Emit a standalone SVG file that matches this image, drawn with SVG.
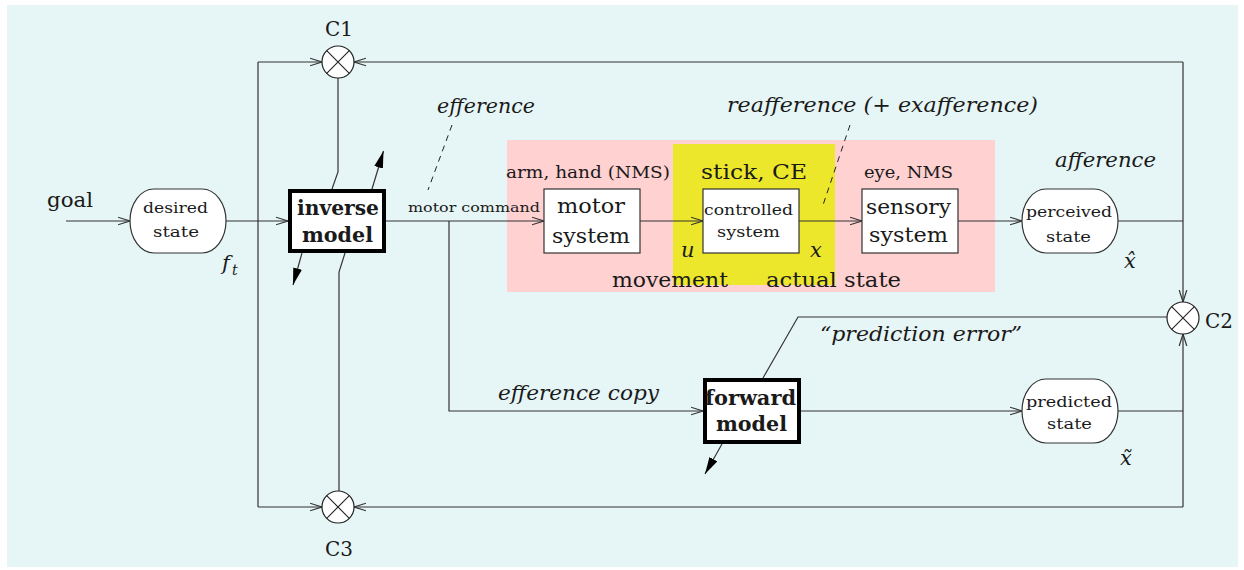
<svg xmlns="http://www.w3.org/2000/svg" width="1244" height="570" viewBox="0 0 1244 570">
<style>
text{font-family:"DejaVu Serif","Liberation Serif",serif;fill:#1a1a1a}
.big{font-size:21px}
.med{font-size:16.5px}
.sm{font-size:15px}
.tiny{font-size:12.5px}
.bold{font-size:20px;font-weight:bold}
.it{font-style:italic;font-size:21px}
.ln{fill:none;stroke:#333;stroke-width:1.2}
.box{fill:#fff;stroke:#333;stroke-width:1.2}
.thick{fill:#fff;stroke:#000;stroke-width:4}
.dash{fill:none;stroke:#222;stroke-width:1;stroke-dasharray:6 5}
.sum circle{fill:#fff;stroke:#222;stroke-width:1.2}
.sum path{stroke:#222;stroke-width:1.1;fill:none}
</style>
<defs>
<marker id="oa" markerUnits="userSpaceOnUse" markerWidth="14" markerHeight="10" viewBox="0 0 14 10" refX="12" refY="5" orient="auto">
<path d="M0,1.2 L12,5 L0,8.8" fill="none" stroke="#333" stroke-width="1.2"/>
</marker>
<marker id="fa" markerUnits="userSpaceOnUse" markerWidth="18" markerHeight="10" viewBox="0 0 18 10" refX="17" refY="5" orient="auto">
<path d="M0,0.5 L17,5 L0,9.5 z" fill="#000"/>
</marker>
</defs>
<rect x="7" y="5" width="1231" height="562" fill="#e6f5f5"/>
<rect x="507" y="140" width="488" height="152" fill="#ffd1d1"/>
<rect x="673" y="144" width="162" height="141" fill="#ece72b"/>

<g id="connectors">
<path class="ln" d="M66 221 H130" marker-end="url(#oa)"/>
<path class="ln" d="M226 221 H288" marker-end="url(#oa)"/>
<path class="ln" d="M258 62 V507"/>
<path class="ln" d="M258 62 H322" marker-end="url(#oa)"/>
<path class="ln" d="M258 507 H322" marker-end="url(#oa)"/>
<path class="ln" d="M338 78 V172 L332 189"/>
<path class="ln" d="M345 253 L339 272 V491"/>
<path class="ln" d="M386 221 H544" marker-end="url(#oa)"/>
<path class="ln" d="M449 221 V411 H703" marker-end="url(#oa)"/>
<path class="ln" d="M640 221 H703" marker-end="url(#oa)"/>
<path class="ln" d="M799 221 H862" marker-end="url(#oa)"/>
<path class="ln" d="M958 221 H1022" marker-end="url(#oa)"/>
<path class="ln" d="M1118 221 H1183"/>
<path class="ln" d="M1183 62 H354" marker-end="url(#oa)"/>
<path class="ln" d="M1183 62 V302" marker-end="url(#oa)"/>
<path class="ln" d="M1183 507 V334" marker-end="url(#oa)"/>
<path class="ln" d="M1183 507 H354" marker-end="url(#oa)"/>
<path class="ln" d="M1118 411 H1183"/>
<path class="ln" d="M801 411 H1022" marker-end="url(#oa)"/>
<path class="ln" d="M1167 317 H798 L763 378"/>
<path class="ln" d="M372 189 L383.5 151" marker-end="url(#fa)"/>
<path class="ln" d="M302 253 L293 285" marker-end="url(#fa)"/>
<path class="ln" d="M722 444 L705 474" marker-end="url(#fa)"/>
<path class="dash" d="M452 125 L428 190"/>
<path class="dash" d="M850 125 L822 208"/>
</g>

<g id="goal"><text class="big" x="47" y="207" textLength="46" lengthAdjust="spacingAndGlyphs">goal</text></g>

<g id="desired-state">
<rect class="box" x="130" y="189" width="96" height="64" rx="24" ry="32"/>
<text class="sm" x="143" y="213" textLength="65" lengthAdjust="spacingAndGlyphs">desired</text>
<text class="sm" x="153" y="237" textLength="46" lengthAdjust="spacingAndGlyphs">state</text>
</g>
<g id="ft-label"><text class="it" x="222" y="270">f</text><text class="it" x="232" y="275" style="font-size:14px">t</text></g>

<g id="inverse-model">
<rect class="thick" x="290" y="191" width="94" height="60"/>
<text class="bold" x="297" y="215" textLength="82" lengthAdjust="spacingAndGlyphs">inverse</text>
<text class="bold" x="302" y="242" textLength="71" lengthAdjust="spacingAndGlyphs">model</text>
</g>

<g id="C1" class="sum">
<circle cx="338" cy="62" r="16"/>
<path d="M326.7 50.7 L349.3 73.3 M349.3 50.7 L326.7 73.3"/>
<text class="big" x="325" y="36" textLength="28" lengthAdjust="spacingAndGlyphs">C1</text>
</g>
<g id="C3" class="sum">
<circle cx="338" cy="507" r="16"/>
<path d="M326.7 495.7 L349.3 518.3 M349.3 495.7 L326.7 518.3"/>
<text class="big" x="325" y="556" textLength="28" lengthAdjust="spacingAndGlyphs">C3</text>
</g>
<g id="C2" class="sum">
<circle cx="1183" cy="318" r="16"/>
<path d="M1171.7 306.7 L1194.3 329.3 M1194.3 306.7 L1171.7 329.3"/>
<text class="big" x="1205" y="328" textLength="28" lengthAdjust="spacingAndGlyphs">C2</text>
</g>

<g id="labels">
<text class="it" x="437" y="113" textLength="98" lengthAdjust="spacingAndGlyphs">efference</text>
<text class="it" x="727" y="112" textLength="311" lengthAdjust="spacingAndGlyphs">reafference (+ exafference)</text>
<text class="it" x="1055" y="167" textLength="101" lengthAdjust="spacingAndGlyphs">afference</text>
<text class="tiny" x="408" y="212" textLength="132" lengthAdjust="spacingAndGlyphs">motor command</text>
<text class="big" x="612" y="287" textLength="116" lengthAdjust="spacingAndGlyphs">movement</text>
<text class="big" x="766" y="287" textLength="135" lengthAdjust="spacingAndGlyphs">actual state</text>
<text class="it" x="681" y="257">u</text>
<text class="it" x="810" y="257">x</text>
<text class="it" x="498" y="400" textLength="161" lengthAdjust="spacingAndGlyphs">efference copy</text>
<text class="it" x="820" y="341" textLength="202" lengthAdjust="spacingAndGlyphs">“prediction error”</text>
<text class="it" x="1124" y="268">x̂</text>
<text class="it" x="1120" y="465">x̃</text>
</g>

<g id="motor-system">
<text class="med" x="506" y="178" textLength="164" lengthAdjust="spacingAndGlyphs">arm, hand (NMS)</text>
<rect class="box" x="544" y="189" width="96" height="64"/>
<text class="big" x="557" y="213" textLength="68" lengthAdjust="spacingAndGlyphs">motor</text>
<text class="big" x="552" y="243" textLength="78" lengthAdjust="spacingAndGlyphs">system</text>
</g>

<g id="controlled-system">
<text class="big" x="701" y="179" textLength="106" lengthAdjust="spacingAndGlyphs">stick, CE</text>
<rect class="box" x="703" y="189" width="96" height="64"/>
<text class="sm" x="704" y="215" textLength="89" lengthAdjust="spacingAndGlyphs">controlled</text>
<text class="sm" x="717" y="237" textLength="63" lengthAdjust="spacingAndGlyphs">system</text>
</g>

<g id="sensory-system">
<text class="med" x="864" y="178" textLength="89" lengthAdjust="spacingAndGlyphs">eye, NMS</text>
<rect class="box" x="862" y="189" width="96" height="64"/>
<text class="big" x="866" y="214" textLength="85" lengthAdjust="spacingAndGlyphs">sensory</text>
<text class="big" x="869" y="242" textLength="79" lengthAdjust="spacingAndGlyphs">system</text>
</g>

<g id="perceived-state">
<rect class="box" x="1022" y="189" width="96" height="64" rx="24" ry="32"/>
<text class="sm" x="1026" y="217" textLength="86" lengthAdjust="spacingAndGlyphs">perceived</text>
<text class="sm" x="1046" y="242" textLength="45" lengthAdjust="spacingAndGlyphs">state</text>
</g>

<g id="forward-model">
<rect class="thick" x="705" y="380" width="94" height="62"/>
<text class="bold" x="705" y="405" textLength="91" lengthAdjust="spacingAndGlyphs">forward</text>
<text class="bold" x="716" y="431" textLength="71" lengthAdjust="spacingAndGlyphs">model</text>
</g>

<g id="predicted-state">
<rect class="box" x="1022" y="379" width="96" height="64" rx="24" ry="32"/>
<text class="sm" x="1026" y="407" textLength="86" lengthAdjust="spacingAndGlyphs">predicted</text>
<text class="sm" x="1047" y="429" textLength="45" lengthAdjust="spacingAndGlyphs">state</text>
</g>
</svg>
